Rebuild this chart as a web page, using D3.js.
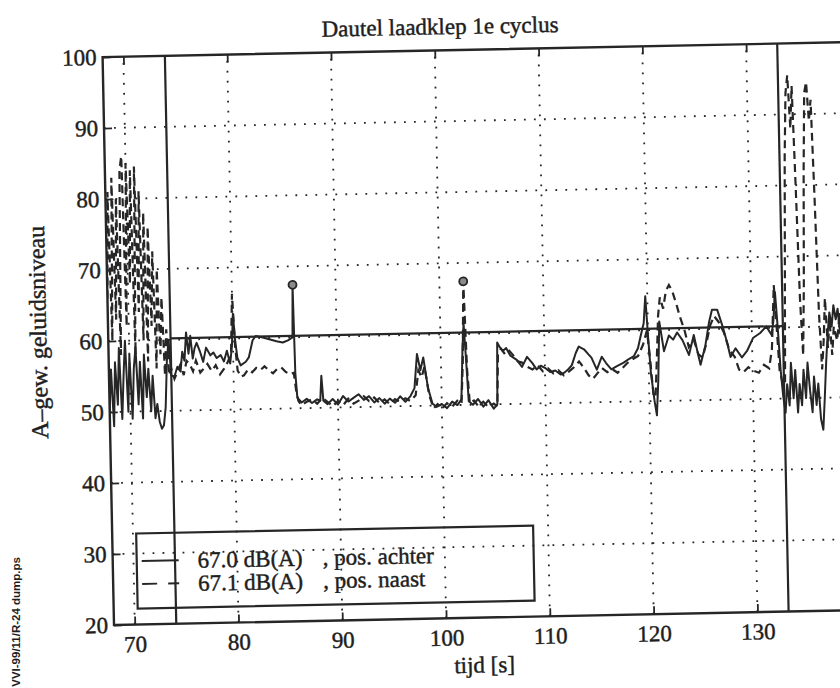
<!DOCTYPE html>
<html>
<head>
<meta charset="utf-8">
<script src="https://cdn.jsdelivr.net/npm/d3@7"></script>
<style>
  body { margin: 0; background: #fff; }
  text { font-family: "Liberation Serif", "Times New Roman", serif; fill: #1e1e1e; stroke: #1e1e1e; stroke-width: 0.45px; }
</style>
</head>
<body>
<div id="chart"></div>
<script>
// Dautel laadklep 1e cyclus - A-gewogen geluidsniveau tegen tijd

const title = 'Dautel laadklep 1e cyclus';
const xLabel = 'tijd [s]';
const yLabel = 'A\u2013gew. geluidsniveau';
const stamp = 'VVI-99/11/R-24 dump.ps';

const xTicks = [70, 80, 90, 100, 110, 120, 130, 140];
const xTickLabels = [70, 80, 90, 100, 110, 120, 130];
const yTicks = [20, 30, 40, 50, 60, 70, 80, 90, 100];

// cycle markers: start / end of the cycle and the mean level in between
const cycleStart = 74;
const cycleEnd = 133;
const cycleLevel = 60.2;

// maxima inside the cycle (circle markers)
const peaks = [[85.85, 67.4], [102.3, 67.4]];

const legendValues = ['67.0 dB(A)', '67.1 dB(A)'];
const legendNames = [', pos. achter', ', pos. naast'];

// pos. achter (solid) [tijd, dB(A)]
const achter = [
  [68.0,50],[68.2,56],[68.4,48],[68.6,57],[68.8,51],[69.0,59],[69.2,49],[69.4,55],[69.6,60],[69.8,50],
  [70.0,58],[70.2,49],[70.4,56],[70.6,59],[70.8,51],[71.0,57],[71.2,49],[71.4,58],[71.6,52],[71.8,56],
  [72.0,50],[72.2,55],[72.4,49],[72.6,51],[72.8,48.5],[73.0,47.5],[73.2,48],[73.4,50.5],[73.6,57],[73.8,60],
  [74.0,55],[74.3,54.8],[74.6,56.2],[74.9,55.5],[75.1,58.3],[75.3,57],[75.5,61],[75.7,58],[75.9,60.5],[76.1,57.3],
  [76.3,58.8],[76.5,59.5],[76.8,58.3],[77.1,56.8],[77.4,58.8],[77.8,57.7],[78.1,58.1],[78.4,57.3],[78.8,57.7],[79.1,56.8],
  [79.4,58.3],[79.7,56.5],[79.9,59],[80.05,63.5],[80.2,60],[80.4,57.3],[80.7,56.2],[81.2,56.7],[81.5,57.3],[81.9,59.7],
  [82.2,60.3],[82.8,60.1],[83.5,59.8],[84.2,59.5],[84.8,59.3],[85.3,59.6],[85.75,60],[85.85,67.4],[85.95,55],[86.1,51.5],
  [86.5,50.8],[87,51.3],[87.5,50.7],[88,51.2],[88.3,51],[88.45,54.5],[88.6,51],[89,50.5],[89.5,51.2],[90,50.4],
  [90.5,51.6],[91,50.8],[91.5,51.3],[92,51.8],[92.5,51],[93,51.5],[93.5,50.6],[94,51.2],[94.5,50.4],[95,51.1],
  [95.5,50.5],[96,51.4],[96.5,50.6],[97,51.4],[97.4,52.5],[97.7,57.3],[98.0,55],[98.3,56.8],[98.7,52.5],[99.1,50.3],
  [99.5,49.8],[100,50.2],[100.5,49.6],[101,50.5],[101.5,50],[101.9,50.8],[102.1,58],[102.25,61.5],[102.4,57],[102.6,50.5],
  [103,50],[103.5,50.8],[104,49.7],[104.5,50.6],[105,49.4],[105.35,50],[105.45,58.7],[105.7,58],[106,57.5],[106.3,57.9],
  [106.7,56.8],[107.3,56.2],[107.8,55.2],[108.3,56.6],[108.8,55.7],[109.2,54.8],[109.6,55.3],[110,55],[110.5,54.4],[111,54.6],
  [111.5,54],[111.9,54.3],[112.3,54.8],[112.6,55.3],[113,57],[113.3,57.9],[113.8,57.5],[114.2,56.8],[114.5,56.3],[115,54.6],
  [115.5,56.4],[115.9,55.5],[116.4,54.6],[116.9,55],[117.6,55.5],[118.1,56],[118.6,56.4],[119,57.5],[119.3,59.3],[119.6,61],
  [119.8,64.8],[120.0,59],[120.2,54],[120.5,50],[120.7,48],[120.9,53],[121.1,61.2],[121.5,57],[122,59.2],[122.4,58.6],
  [122.8,59.6],[123.3,58.5],[123.9,56.4],[124.4,59.2],[124.7,57],[125,55],[125.5,57.7],[125.9,61],[126.2,62.7],[126.7,62.7],
  [127.2,60.3],[127.6,58],[127.9,56],[128.4,57.2],[129,55.9],[129.5,56.8],[130.1,58.6],[130.8,59.3],[131.4,60.2],[131.9,59],
  [132.1,61],[132.3,65],[132.5,60],[132.7,54],[132.9,50.3],[133.1,48],[133.3,52],[133.5,49],[133.7,55],[133.9,50],
  [134.1,54],[134.3,48],[134.5,52],[134.7,49],[134.9,54],[135.1,50],[135.3,55],[135.5,51],[135.7,48],[135.9,53],
  [136.1,49],[136.3,52],[136.5,47],[136.7,45.5],[136.9,50],[137.1,55],[137.3,59],[137.5,62],[137.7,60],[137.9,63],
  [138.1,61],[138.3,62.5],[138.5,59],[138.8,61],[139.1,58],[139.5,60],[140,59]
];

// pos. naast (dashed) [tijd, dB(A)]
const naast = [
  [68.0,66],[68.2,81],[68.4,60],[68.6,83],[68.8,63],[69.0,80],[69.2,58],[69.4,84],[69.6,86],[69.8,62],
  [70.0,85],[70.2,68],[70.4,84],[70.6,58],[70.8,84.5],[71.0,64],[71.2,81],[71.4,60],[71.6,78],[71.8,57],
  [72.0,76],[72.2,62],[72.4,72.5],[72.6,56],[72.8,70],[73.0,58],[73.2,66],[73.4,55],[73.6,61.5],[73.8,55],
  [74.0,56],[74.3,54.5],[74.6,55.5],[74.9,56.5],[75.2,55],[75.5,57],[75.8,56.5],[76.1,55.5],[76.4,57],[76.8,55.3],
  [77.1,55.8],[77.5,56.5],[77.9,55.5],[78.3,56.3],[78.7,55],[79.1,55.8],[79.5,56.8],[79.8,58],[80.0,66.3],[80.2,59],
  [80.4,55.5],[80.7,54.6],[81.0,54.8],[81.4,55.6],[81.8,55.2],[82.2,55.8],[82.6,55.5],[83.0,56],[83.4,55.4],[83.8,55],
  [84.2,55.6],[84.6,55.8],[85.0,55.2],[85.4,54.8],[85.8,55],[86.0,52.5],[86.2,51],[86.5,50.4],[87,50.9],[87.5,51.2],
  [88,50.6],[88.5,51.4],[89,50.8],[89.5,50.2],[90,50.9],[90.5,50.3],[91,51.2],[91.5,50.5],[92,50.9],[92.5,51.5],
  [93,50.8],[93.5,51.3],[94,50.5],[94.5,51],[95,50.3],[95.5,51],[96,50.6],[96.5,51.1],[97,50.7],[97.5,51.5],
  [97.8,55],[98.1,54],[98.4,55.5],[98.8,51.5],[99.2,49.6],[99.6,50.2],[100,49.5],[100.5,50.3],[101,49.8],[101.5,50.6],
  [101.9,50.2],[102.1,56],[102.3,67.4],[102.5,55],[102.7,50.2],[103.1,50.6],[103.5,49.8],[104,50.4],[104.5,49.6],[105,50.1],
  [105.35,49.7],[105.5,57],[105.8,57.8],[106.2,57],[106.6,57.5],[107,56.8],[107.4,56],[107.8,55.8],[108.3,55.2],[108.8,54.8],
  [109.3,55.4],[109.8,54.5],[110.3,54.9],[110.8,54.2],[111.3,54.6],[111.8,53.9],[112.3,54.4],[112.8,55],[113.3,55.8],[113.8,54.8],
  [114.2,53.8],[114.6,53.3],[115,54],[115.5,54.8],[116,54.2],[116.5,54.6],[117,54.1],[117.5,54.8],[118,55.5],[118.5,56],
  [119,56.4],[119.5,58],[119.9,60],[120.2,55],[120.4,51],[120.6,50.5],[120.8,56],[121.0,62],[121.2,64.6],[121.5,63],
  [121.8,65.5],[122.1,66.3],[122.4,65.5],[122.8,63.5],[123.1,61.8],[123.5,60],[123.9,57.5],[124.4,58.5],[124.8,56.5],[125.2,56],
  [125.6,58],[126,60.5],[126.4,61.8],[126.8,61],[127.3,59.5],[127.8,57],[128.3,56],[128.7,54.2],[129.1,53.8],[129.6,54.5],
  [130.1,54],[130.6,53.7],[131.1,54.8],[131.6,54.3],[131.9,57],[132.2,66],[132.4,60],[132.6,54],[132.9,52],[133.1,52],
  [133.3,68],[133.5,84],[133.7,93],[133.9,95.5],[134.1,88],[134.3,94],[134.5,80],[134.7,64],[134.9,56],[135.1,66],
  [135.3,82],[135.5,93],[135.7,94.5],[135.9,89],[136.1,92],[136.3,78],[136.5,62],[136.7,54],[136.9,58],[137.1,64],
  [137.3,57],[137.5,61],[137.7,56],[137.9,60],[138.2,58],[138.5,62],[138.9,57],[139.3,61],[139.7,58],[140,60]
];

const W = 840, H = 688;
const ink = '#262626';

const svg = d3.select('#chart')
  .append('svg')
  .attr('width', W)
  .attr('height', H)
  .style('display', 'block');

svg.append('rect').attr('width', W).attr('height', H).attr('fill', '#fff');

// the scan is slightly tilted
const g = svg.append('g').attr('transform', 'rotate(-1.15,114,625)');

const x = d3.scaleLinear().domain([68, 140]).range([114, 861.4]);
const y = d3.scaleLinear().domain([20, 100]).range([625, 57]);

g.append('clipPath').attr('id', 'plotclip')
  .append('rect')
  .attr('x', x(68)).attr('y', y(100))
  .attr('width', x(140) - x(68)).attr('height', y(20) - y(100));

// dotted grid
g.append('g').selectAll('line')
  .data(xTicks)
  .join('line')
  .attr('x1', d => x(d)).attr('x2', d => x(d))
  .attr('y1', y(20)).attr('y2', y(100))
  .attr('stroke', ink).attr('stroke-width', 1.8)
  .attr('stroke-dasharray', '1.8 8.2');

g.append('g').selectAll('line')
  .data(yTicks.filter(d => d > 20 && d < 100))
  .join('line')
  .attr('x1', x(68)).attr('x2', x(140))
  .attr('y1', d => y(d)).attr('y2', d => y(d))
  .attr('stroke', ink).attr('stroke-width', 1.8)
  .attr('stroke-dasharray', '1.8 8.2');

// data
const line = d3.line().x(d => x(d[0])).y(d => y(d[1]));
const plot = g.append('g').attr('clip-path', 'url(#plotclip)');

plot.append('path')
  .datum(naast)
  .attr('d', line)
  .attr('fill', 'none')
  .attr('stroke', ink).attr('stroke-width', 2.2)
  .attr('stroke-dasharray', '8 5');

plot.append('path')
  .datum(achter)
  .attr('d', line)
  .attr('fill', 'none')
  .attr('stroke', ink).attr('stroke-width', 2)
  .attr('stroke-linejoin', 'round');

// cycle lines
plot.selectAll('line.cycle')
  .data([cycleStart, cycleEnd])
  .join('line')
  .attr('class', 'cycle')
  .attr('x1', d => x(d)).attr('x2', d => x(d))
  .attr('y1', y(20)).attr('y2', y(100))
  .attr('stroke', ink).attr('stroke-width', 2.2);

plot.append('line')
  .attr('x1', x(cycleStart)).attr('x2', x(cycleEnd))
  .attr('y1', y(cycleLevel)).attr('y2', y(cycleLevel))
  .attr('stroke', ink).attr('stroke-width', 2.2);

plot.selectAll('circle')
  .data(peaks)
  .join('circle')
  .attr('cx', d => x(d[0])).attr('cy', d => y(d[1]))
  .attr('r', 4)
  .attr('fill', '#8a8a8a')
  .attr('stroke', ink).attr('stroke-width', 1.8);

// axes (ticks inside, like the original)
function styleAxis(sel) {
  sel.select('.domain').remove();
  sel.selectAll('.tick line').attr('stroke', ink).attr('stroke-width', 1.8);
  sel.selectAll('.tick text')
    .attr('fill', '#1e1e1e')
    .style('font-family', '"Liberation Serif", "Times New Roman", serif')
    .style('font-size', '23px');
}

g.append('g')
  .attr('transform', `translate(0,${y(20)})`)
  .call(d3.axisBottom(x).tickValues(xTicks).tickSize(-8).tickFormat(''))
  .call(styleAxis);

g.append('g')
  .attr('transform', `translate(0,${y(20)})`)
  .call(d3.axisBottom(x).tickValues(xTickLabels).tickSize(0).tickPadding(11).tickFormat(d3.format('d')))
  .call(styleAxis);

g.append('g')
  .attr('transform', `translate(0,${y(100)})`)
  .call(d3.axisTop(x).tickValues(xTicks).tickSize(-8).tickFormat(''))
  .call(styleAxis);

g.append('g')
  .attr('transform', `translate(${x(68)},0)`)
  .call(d3.axisLeft(y).tickValues(yTicks).tickSize(-8).tickPadding(6).tickFormat(d3.format('d')))
  .call(styleAxis);

// frame
g.append('rect')
  .attr('x', x(68)).attr('y', y(100))
  .attr('width', x(140) - x(68)).attr('height', y(20) - y(100))
  .attr('fill', 'none')
  .attr('stroke', ink).attr('stroke-width', 2.4);

// titles
g.append('text')
  .attr('x', 452).attr('y', 41)
  .attr('text-anchor', 'middle')
  .style('font-size', '23px')
  .text(title);

g.append('text')
  .attr('x', (x(68) + x(140)) / 2 - 4).attr('y', 680)
  .attr('text-anchor', 'middle')
  .style('font-size', '23px')
  .text(xLabel);

g.append('text')
  .attr('transform', 'translate(52,331) rotate(-90)')
  .attr('text-anchor', 'middle')
  .style('font-size', '24px')
  .text(yLabel);

// legend
const leg = g.append('g');
leg.append('rect')
  .attr('x', 138).attr('y', 534)
  .attr('width', 397).attr('height', 75)
  .attr('fill', 'none')
  .attr('stroke', ink).attr('stroke-width', 2.2);

legendValues.forEach((v, i) => {
  const ly = 569.5 + i * 23;
  leg.append('line')
    .attr('x1', 143).attr('x2', 180)
    .attr('y1', ly - 8).attr('y2', ly - 8)
    .attr('stroke', ink).attr('stroke-width', 2)
    .attr('stroke-dasharray', i === 0 ? null : '15 11');
  leg.append('text').attr('x', 199).attr('y', ly).style('font-size', '23px').text(v);
  leg.append('text').attr('x', 324).attr('y', ly).style('font-size', '23px').text(legendNames[i]);
});

// file stamp in the margin
svg.append('text')
  .attr('transform', 'translate(20,557) rotate(-90)')
  .attr('text-anchor', 'end')
  .style('font-family', '"Liberation Sans", Arial, sans-serif')
  .style('font-size', '11.5px')
  .style('font-weight', 'bold')
  .style('stroke', 'none')
  .attr('fill', '#555')
  .text(stamp);
</script>
</body>
</html>
